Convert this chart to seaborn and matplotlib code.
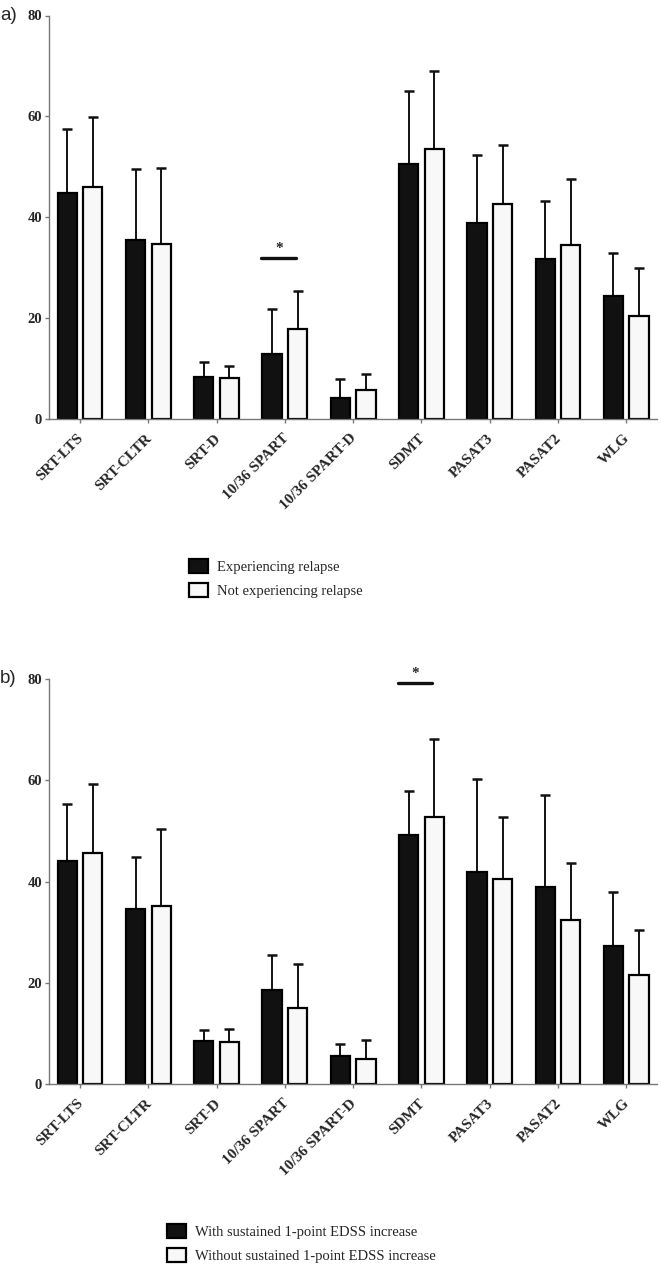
import numpy as np
import pandas as pd
import matplotlib
matplotlib.use("Agg")
import matplotlib.pyplot as plt
import matplotlib.transforms as mtrans
from matplotlib.patches import Patch
import seaborn as sns

# test names on x axis
tests = ["SRT-LTS", "SRT-CLTR", "SRT-D", "10/36 SPART", "10/36 SPART-D",
         "SDMT", "PASAT3", "PASAT2", "WLG"]

# panel a) relapse
groups_a = ["Experiencing relapse", "Not experiencing relapse"]
mean_a1 = [44.8, 35.4, 8.4, 12.9, 4.1, 50.5, 38.9, 31.8, 24.3]
sd_a1 = [12.6, 14.1, 2.9, 8.9, 3.9, 14.5, 13.4, 11.4, 8.6]
mean_a2 = [45.9, 34.7, 8.2, 17.8, 5.7, 53.6, 42.6, 34.5, 20.4]
sd_a2 = [14.0, 15.1, 2.4, 7.6, 3.2, 15.4, 11.8, 13.0, 9.6]
sig_a = ("10/36 SPART", 31.9)

# panel b) EDSS progression
groups_b = ["With sustained 1-point EDSS increase", "Without sustained 1-point EDSS increase"]
mean_b1 = [44.0, 34.7, 8.6, 18.7, 5.5, 49.2, 41.9, 38.9, 27.3]
sd_b1 = [11.3, 10.2, 2.2, 6.9, 2.4, 8.6, 18.3, 18.2, 10.7]
mean_b2 = [45.7, 35.2, 8.4, 15.0, 5.0, 52.7, 40.5, 32.5, 21.6]
sd_b2 = [13.5, 15.2, 2.6, 8.8, 3.8, 15.5, 12.2, 11.2, 8.9]
sig_b = ("SDMT", 79.2)

sns.set_style("ticks")
plt.rcParams["font.family"] = ["Liberation Serif", "DejaVu Serif"]

fig = plt.figure(figsize=(6.62, 12.67), dpi=100)
W, H = 662, 1267


def panel(ax, groups, m1, s1, m2, s2, sig, letter):
    df = pd.DataFrame({
        "test": tests * 2,
        "group": [groups[0]] * len(tests) + [groups[1]] * len(tests),
        "value": m1 + m2,
    })
    pal = {groups[0]: "#111111", groups[1]: "#f8f8f8"}
    sns.barplot(data=df, x="test", y="value", hue="group", order=tests,
                hue_order=groups, palette=pal, errorbar=None, width=0.75,
                gap=0.25, edgecolor="black", linewidth=1.6, saturation=1,
                legend=False, ax=ax, zorder=2)
    # upward-only sd bars
    for cont, sds in zip(ax.containers, [s1, s2]):
        xs = [p.get_x() + p.get_width() / 2 for p in cont.patches]
        ys = [p.get_height() for p in cont.patches]
        ax.errorbar(xs, ys, yerr=[np.zeros(len(sds)), sds], fmt="none",
                    ecolor="#111111", elinewidth=1.4, capsize=3.5,
                    capthick=1.8, zorder=1)
    ax.set_xlim(-0.455, 8.45)
    ax.set_ylim(0, 80)
    ax.set_xlabel("")
    ax.set_ylabel("")
    sns.despine(ax=ax)
    for sp in ["left", "bottom"]:
        ax.spines[sp].set_color("#777777")
        ax.spines[sp].set_linewidth(1.0)
    ax.tick_params(axis="both", length=3, width=1.0, color="#777777", pad=2)
    ax.tick_params(axis="x", pad=6)
    ax.set_yticks([0, 20, 40, 60, 80])
    ax.set_yticklabels([str(v) for v in [0, 20, 40, 60, 80]],
                       fontsize=10.5, fontweight="bold")
    ax.set_xticks(range(len(tests)))
    ax.set_xticklabels(tests, rotation=45, ha="right", rotation_mode="anchor",
                       fontsize=11, fontweight="bold")
    shift = mtrans.ScaledTranslation(-3 / 100, 0, fig.dpi_scale_trans)
    for lab in ax.get_xticklabels():
        lab.set_transform(lab.get_transform() + shift)
    # significance marker
    i = tests.index(sig[0])
    ax.plot([i - 0.35, i + 0.16], [sig[1], sig[1]], color="#111111", lw=2.4,
            clip_on=False, zorder=3)
    ax.text(i - 0.09, sig[1] + 0.6, "*", ha="center", va="bottom",
            fontsize=11, fontweight="bold", clip_on=False)
    fig.text(0.0, ax.get_position().y1, letter, ha="left", va="center",
             fontsize=13.5, family="Liberation Sans")


ax_a = fig.add_axes([49 / W, 1 - 419 / H, 608 / W, 403.5 / H])
panel(ax_a, groups_a, mean_a1, sd_a1, mean_a2, sd_a2, sig_a, "a)")
ax_b = fig.add_axes([49 / W, 1 - 1084.3 / H, 608 / W, 405.3 / H])
panel(ax_b, groups_b, mean_b1, sd_b1, mean_b2, sd_b2, sig_b, "b)")


def legend(groups, x, y):
    handles = [Patch(facecolor="#111111", edgecolor="black", linewidth=1.6),
               Patch(facecolor="#f8f8f8", edgecolor="black", linewidth=1.6)]
    fig.legend(handles, groups, loc="upper left",
               bbox_to_anchor=(x / W, 1 - y / H), frameon=False,
               fontsize=10.5, handlelength=1.3, handleheight=1.1,
               handletextpad=0.6, labelspacing=0.6, borderpad=0,
               borderaxespad=0)


legend(groups_a, 189, 559)
legend(groups_b, 167, 1224)

fig.savefig("out.png", dpi=100)
